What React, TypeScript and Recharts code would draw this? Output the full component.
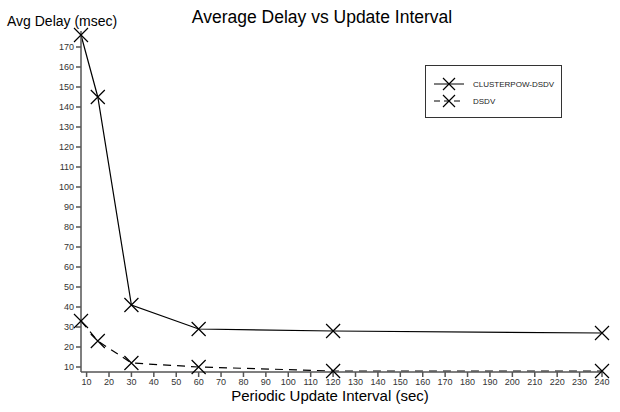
import React from "react";
import { LineChart, Line, XAxis, YAxis } from "recharts";

const intervals = [7.5, 15, 30, 60, 120, 240];
const clusterpowDelay = [176, 145, 41, 29, 28, 27];
const dsdvDelay = [33, 23, 12, 10, 8, 8];
const xTicks = [10, 20, 30, 40, 50, 60, 70, 80, 90, 100, 110, 120, 130, 140, 150, 160, 170, 180, 190, 200, 210, 220, 230, 240];
const yTicks = [10, 20, 30, 40, 50, 60, 70, 80, 90, 100, 110, 120, 130, 140, 150, 160, 170];

const data = intervals.map((x, i) => ({
  interval: x,
  clusterpow: clusterpowDelay[i],
  dsdv: dsdvDelay[i],
}));

const font = "'Liberation Sans', Arial, sans-serif";

const Cross = (props: any) => {
  const { cx, cy } = props;
  if (cx == null || cy == null) return null;
  const s = 7;
  return (
    <path
      d={`M${cx - s},${cy - s}L${cx + s},${cy + s}M${cx - s},${cy + s}L${cx + s},${cy - s}`}
      stroke="#000"
      strokeWidth={1.2}
      fill="none"
    />
  );
};

const LegendBox = () => (
  <div
    style={{
      position: "absolute",
      left: 425,
      top: 65,
      width: 137,
      height: 53,
      border: "1px solid #333",
      background: "#fff",
      fontFamily: font,
      fontSize: 8,
      color: "#222",
      boxSizing: "border-box",
    }}
  >
    {[
      { name: "CLUSTERPOW-DSDV", dash: undefined, top: 18 },
      { name: "DSDV", dash: "6 4", top: 35 },
    ].map((it) => (
      <div key={it.name} style={{ position: "absolute", left: 7, top: it.top - 8, height: 16, display: "flex", alignItems: "center" }}>
        <svg width={32} height={16}>
          <line x1={1} y1={8} x2={31} y2={8} stroke="#000" strokeWidth={1} strokeDasharray={it.dash} />
          <path d="M10,2L22,14M10,14L22,2" stroke="#000" strokeWidth={1.2} fill="none" />
        </svg>
        <span style={{ marginLeft: 8 }}>{it.name}</span>
      </div>
    ))}
  </div>
);

export default function App() {
  return (
    <div style={{ position: "absolute", left: 0, top: 0, width: 620, height: 412, background: "#fff" }}>
      <LineChart width={620} height={412} data={data} margin={{ top: 31, right: 18, left: 41, bottom: 20 }}>
        <XAxis
          dataKey="interval"
          type="number"
          domain={[7.5, 240]}
          ticks={xTicks}
          interval={0}
          height={20}
          stroke="#555"
          strokeWidth={1.5}
          tickSize={5}
          tick={{ fontSize: 9, fill: "#333", fontFamily: font }}
        />
        <YAxis
          type="number"
          domain={[7.5, 178]}
          ticks={yTicks}
          interval={0}
          width={40}
          stroke="#555"
          strokeWidth={1.5}
          tickSize={5}
          tick={{ fontSize: 9, fill: "#333", fontFamily: font }}
        />
        <Line
          dataKey="clusterpow"
          name="CLUSTERPOW-DSDV"
          stroke="#000"
          strokeWidth={1.2}
          dot={<Cross />}
          activeDot={false}
          isAnimationActive={false}
        />
        <Line
          dataKey="dsdv"
          name="DSDV"
          stroke="#000"
          strokeWidth={1.2}
          strokeDasharray="8 6"
          dot={<Cross />}
          activeDot={false}
          isAnimationActive={false}
        />
      </LineChart>
      <LegendBox />
      <div style={{ position: "absolute", left: 7, top: 13, fontFamily: font, fontSize: 14, color: "#000" }}>
        Avg Delay (msec)
      </div>
      <div style={{ position: "absolute", left: 0, width: 644, top: 7, textAlign: "center", fontFamily: font, fontSize: 17.5, color: "#000" }}>
        Average Delay vs Update Interval
      </div>
      <div style={{ position: "absolute", left: 0, width: 660, top: 387, textAlign: "center", fontFamily: font, fontSize: 15, color: "#000" }}>
        Periodic Update Interval (sec)
      </div>
    </div>
  );
}
